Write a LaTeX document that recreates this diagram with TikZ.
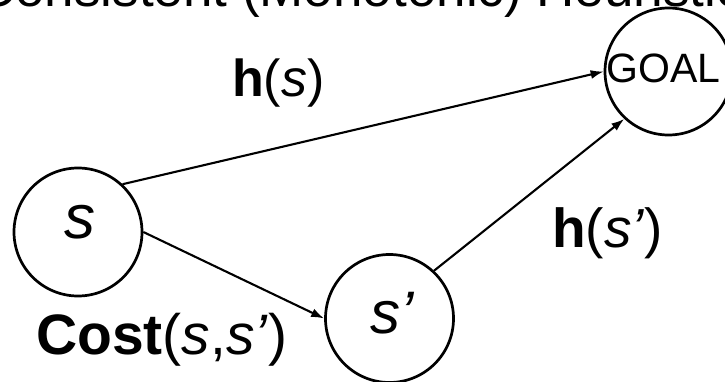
\documentclass[tikz,border=0pt]{standalone}
\usepackage{fontspec}
\setmainfont{Liberation Sans}
\usetikzlibrary{arrows.meta}
\begin{document}
\begin{tikzpicture}[x=1pt,y=1pt,
  statecirc/.style={circle, draw, line width=2.7pt, minimum size=128pt, inner sep=0pt},
  conn/.style={line width=2.1pt, -{Latex[length=13pt,width=9pt]}},
  lbl/.style={inner sep=0pt, anchor=base west},
  ctext/.style={inner sep=0pt, anchor=base}]
\useasboundingbox (0,0) rectangle (725,381);
\node[ctext, font=\fontsize{53}{60}\selectfont] (title) at (360,374) {Consistent (Monotonic) Heuristic};
\node[statecirc] (s) at (78,149) {};
\node[statecirc] (sp) at (389.5,62.5) {};
\node[statecirc, minimum size=127pt] (goal) at (668.5,309.5) {};
\node[ctext, font=\fontsize{62}{70}\selectfont] (stext) at ([xshift=1.5pt,yshift=-6pt]s.center) {\textit{s}};
\node[ctext, font=\fontsize{60}{70}\selectfont] (sptext) at ([xshift=3pt,yshift=-14.5pt]sp.center) {\textit{s’}};
\node[inner sep=0pt, font=\fontsize{41}{48}\selectfont] (goaltext) at ([xshift=-5pt,yshift=3.5pt]goal.center) {GOAL};
\node[lbl, font=\fontsize{52}{60}\selectfont] (hs) at (232,284) {\textbf{h}(\textit{s})};
\node[lbl, font=\fontsize{55}{64}\selectfont] (hsp) at (552,134) {\textbf{h}(\textit{s’})};
\node[lbl, font=\fontsize{57}{66}\selectfont] (cost) at (36,27) {\textbf{Cost}(\textit{s},\textit{s’})};
\draw[conn] (s.47) -- (goal.west);
\draw[conn] (s.east) -- (sp.west);
\draw[conn] (sp.47) -- (goal.227);
\end{tikzpicture}
\end{document}
